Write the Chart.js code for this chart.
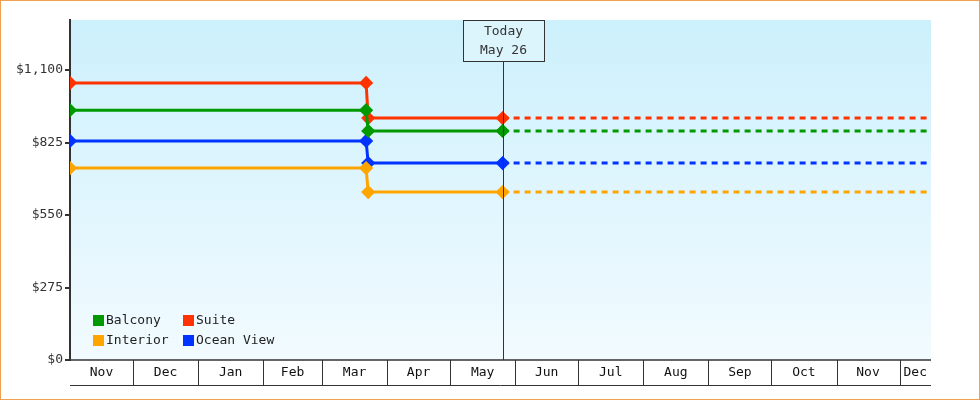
<!DOCTYPE html>
<html><head><meta charset="utf-8">
<script src="https://cdn.jsdelivr.net/npm/chart.js@4"></script>
<style>html,body{margin:0;padding:0;background:#fff}canvas{display:block}</style>
</head><body><div style="width:980px;height:400px"><canvas id="c"></canvas></div>
<script>
// Days since Nov 1
const monthStarts = [0,30,61,92,120,151,181,212,242,273,304,334,365,395,410];
const monthLabels = ['Nov','Dec','Jan','Feb','Mar','Apr','May','Jun','Jul','Aug','Sep','Oct','Nov','Dec'];
const changeDays = [0,141,142,206];
const endDay = 410;
const todayDay = 206;
const seriesNames = ['Balcony','Suite','Interior','Ocean View'];
const seriesColors = ['#009900','#ff3300','#ffa500','#0033ff'];
const beforeVals = [948,1051,728,831];
const afterVals = [869,918,637,747];
const yTicks = [0,275,550,825,1100];
const FONT = "'DejaVu Sans Mono', monospace";

const datasets = [];
seriesNames.forEach((n,i)=>{
  datasets.push({label:n,borderColor:seriesColors[i],backgroundColor:seriesColors[i],borderWidth:3,
    pointStyle:'rectRot',pointRadius:[5,5,5,5],pointHoverRadius:5,
    data:[{x:changeDays[0],y:beforeVals[i]},{x:changeDays[1],y:beforeVals[i]},{x:changeDays[2],y:afterVals[i]},{x:changeDays[3],y:afterVals[i]}]});
  datasets.push({label:n+' future',borderColor:seriesColors[i],borderWidth:3,borderDash:[6,5],pointRadius:0,
    data:[{x:todayDay,y:afterVals[i]},{x:endDay,y:afterVals[i]}]});
});

const deco = {
  id:'deco',
  beforeDraw(ch){
    const c=ch.ctx,a=ch.chartArea;
    const g=c.createLinearGradient(0,a.top,0,a.bottom);
    g.addColorStop(0,'#ccf0fc');g.addColorStop(1,'#f2fbff');
    c.fillStyle=g;c.fillRect(a.left,a.top,a.right-a.left,a.bottom-a.top);
  },
  afterDatasetsDraw(ch){
    const c=ch.ctx,a=ch.chartArea,x=ch.scales.x;
    c.save();
    // today line + box
    const tx=Math.round(x.getPixelForValue(todayDay))+0.5;
    c.strokeStyle='#333';c.lineWidth=1;
    c.beginPath();c.moveTo(tx,61);c.lineTo(tx,a.bottom);c.stroke();
    c.fillStyle='rgba(220,245,253,1)';c.fillRect(tx-40,20.5,81,41);
    c.strokeRect(tx-40,20.5,81,41);
    c.fillStyle='#333';c.font='13px '+FONT;c.textAlign='center';c.textBaseline='middle';
    c.fillText('Today',tx,32);c.fillText('May 26',tx,51);
    // bottom month strip
    c.strokeStyle='#333';c.lineWidth=1;
    c.beginPath();c.moveTo(a.left,a.bottom+25.5);c.lineTo(a.right,a.bottom+25.5);c.stroke();
    for(let k=1;k<monthStarts.length-1;k++){
      const px=Math.round(x.getPixelForValue(monthStarts[k]))+0.5;
      c.beginPath();c.moveTo(px,a.bottom);c.lineTo(px,a.bottom+25);c.stroke();
    }
    c.fillStyle='#111';
    for(let k=0;k<monthLabels.length;k++){
      const m=(x.getPixelForValue(monthStarts[k])+x.getPixelForValue(monthStarts[k+1]))/2;
      c.fillText(monthLabels[k],m,a.bottom+13);
    }
    c.lineWidth=1.5;c.beginPath();c.moveTo(a.left,a.bottom);c.lineTo(a.right,a.bottom);c.stroke();
    // legend
    const L=[[0,93,320],[1,183,320],[2,93,340],[3,183,340]];
    c.textAlign='left';
    L.forEach(([i,lx,ly])=>{
      c.fillStyle=seriesColors[i];c.fillRect(lx,ly-5,11,11);
      c.fillStyle='#222';c.fillText(seriesNames[i],lx+13,ly+1);
    });
    // outer border
    c.strokeStyle='#f0a050';c.lineWidth=1;c.strokeRect(0.5,0.5,ch.width-1,ch.height-1);
    c.restore();
  }
};

new Chart(document.getElementById('c'),{
  type:'line',
  data:{datasets},
  options:{responsive:true,maintainAspectRatio:false,animation:false,
    layout:{padding:{top:20,right:49,left:0,bottom:0}},
    plugins:{legend:{display:false},tooltip:{enabled:false}},
    scales:{
      x:{type:'linear',min:0,max:endDay,ticks:{display:false},grid:{display:false},border:{display:false},
        afterFit(s){s.height=40;}},
      y:{min:0,max:1290,afterBuildTicks(s){s.ticks=yTicks.map(v=>({value:v}));},
        ticks:{color:'#333',font:{family:FONT,size:13},padding:2,
          callback:v=>'$'+v.toLocaleString('en-US')},
        grid:{drawOnChartArea:false,tickLength:5,color:'#333',lineWidth:2},
        border:{color:'#333',width:2},
        afterFit(s){s.width=70;}}
    }},
  plugins:[deco]
});
</script></body></html>
